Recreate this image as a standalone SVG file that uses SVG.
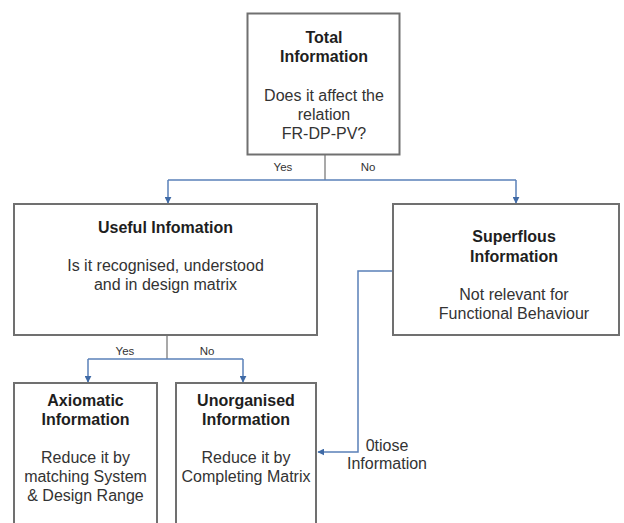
<svg xmlns="http://www.w3.org/2000/svg" width="624" height="523" viewBox="0 0 624 523">
<defs>
<marker id="arr" viewBox="0 0 10 10" refX="9" refY="5" markerWidth="7" markerHeight="7" markerUnits="userSpaceOnUse" orient="auto">
<path d="M0,0 L10,5 L0,10 z" fill="#3f6aa6"/>
</marker>
</defs>
<style>
.box{fill:#ffffff;stroke:#707070;stroke-width:2}
.t{font-family:"Liberation Sans",Arial,sans-serif;font-size:16px;fill:#333333;text-anchor:middle}
.b{font-weight:bold;fill:#1e1e1e}
.s{font-family:"Liberation Sans",Arial,sans-serif;font-size:11.5px;fill:#333;text-anchor:middle}
.stem{stroke:#8c8c8c;stroke-width:1.5;fill:none}
.con{stroke:#5a80b8;stroke-width:1.5;fill:none}
</style>
<rect width="624" height="523" fill="#ffffff"/>
<g id="connectors">
<line class="stem" x1="325" y1="154" x2="325" y2="180"/>
<path class="con" d="M168,180 H516" />
<path class="con" d="M168,180 V203" marker-end="url(#arr)"/>
<path class="con" d="M516,180 V203" marker-end="url(#arr)"/>
<text class="s" x="283" y="171">Yes</text>
<text class="s" x="368" y="171">No</text>
<line class="stem" x1="167" y1="335" x2="167" y2="359"/>
<path class="con" d="M88,359 H243"/>
<path class="con" d="M88,359 V382" marker-end="url(#arr)"/>
<path class="con" d="M243,359 V382" marker-end="url(#arr)"/>
<text class="s" x="125" y="355">Yes</text>
<text class="s" x="207" y="355">No</text>
<path class="con" d="M393,271 H358 V452 H318" marker-end="url(#arr)"/>
<text class="t" x="387" y="451">0tiose</text>
<text class="t" x="387" y="469">Information</text>
</g>
<g id="total">
<rect class="box" x="247.5" y="13.5" width="152" height="141"/>
<text class="t b" x="324" y="43">Total</text>
<text class="t b" x="324" y="62">Information</text>
<text class="t" x="324" y="101">Does it affect the</text>
<text class="t" x="324" y="120">relation</text>
<text class="t" x="324" y="139">FR-DP-PV?</text>
</g>
<g id="useful">
<rect class="box" x="14" y="204" width="303" height="131"/>
<text class="t b" x="165.5" y="233">Useful Infomation</text>
<text class="t" x="165.5" y="271">Is it recognised, understood</text>
<text class="t" x="165.5" y="290">and in design matrix</text>
</g>
<g id="superflous">
<rect class="box" x="393" y="204" width="226" height="131"/>
<text class="t b" x="514" y="242">Superflous</text>
<text class="t b" x="514" y="262">Information</text>
<text class="t" x="514" y="300">Not relevant for</text>
<text class="t" x="514" y="319">Functional Behaviour</text>
</g>
<g id="axiomatic">
<rect class="box" x="14" y="383" width="143" height="150"/>
<text class="t b" x="85.5" y="406">Axiomatic</text>
<text class="t b" x="85.5" y="425">Information</text>
<text class="t" x="85.5" y="463">Reduce it by</text>
<text class="t" x="85.5" y="482">matching System</text>
<text class="t" x="85.5" y="501">&amp; Design Range</text>
</g>
<g id="unorganised">
<rect class="box" x="176" y="383" width="140" height="150"/>
<text class="t b" x="246" y="406">Unorganised</text>
<text class="t b" x="246" y="425">Information</text>
<text class="t" x="246" y="463">Reduce it by</text>
<text class="t" x="246" y="482">Completing Matrix</text>
</g>
</svg>
